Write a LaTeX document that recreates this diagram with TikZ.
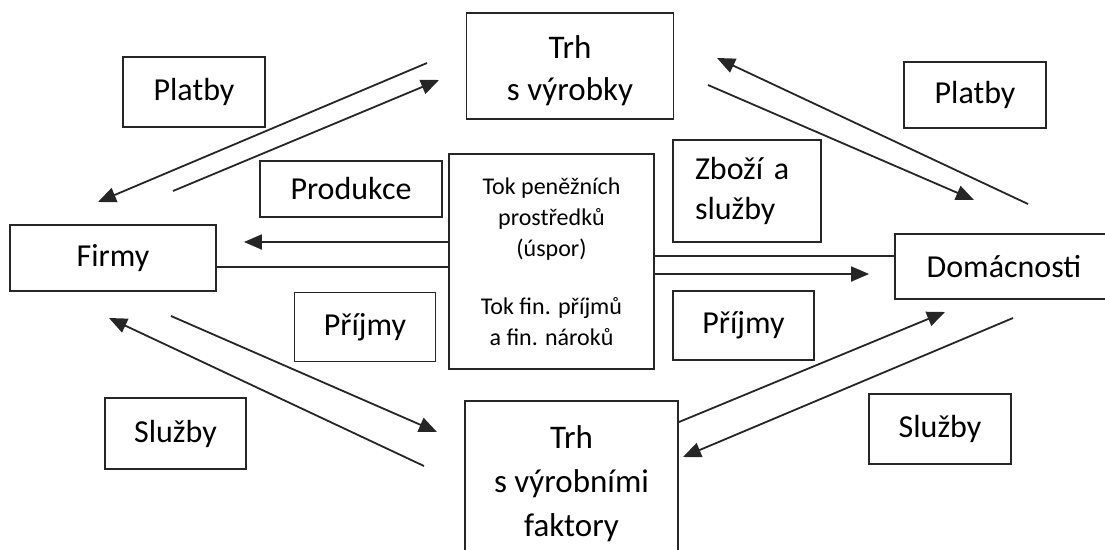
\documentclass[tikz,border=0pt]{standalone}
\usepackage{fontspec}
\setmainfont{Carlito}
\usetikzlibrary{arrows.meta}

\begin{document}
\begin{tikzpicture}[x=1pt,y=-1pt,line width=1.8pt,
  box/.style={draw=black!85,inner sep=0pt,align=center,font=\fontsize{32}{40}\selectfont},
  flow/.style={draw=black!85,-{Triangle[length=18pt,width=15pt]}}]
\useasboundingbox (0,0) rectangle (1105,549);
%
\node[box,minimum width=207pt,minimum height=106pt,text height=75pt,font=\fontsize{33}{42}\selectfont] (trhV) at (570,66) {Trh\\s výrobky};
\node[box,minimum width=213pt,minimum height=166pt,font=\fontsize{33}{44}\selectfont] (trhF) at (571.5,484) {Trh\\s výrobními\\faktory};
\node[box,minimum width=206pt,minimum height=66pt] (firmy) at (113,258) {Firmy};
\node[box,minimum width=218pt,minimum height=65pt] (domac) at (1004,266.5) {Domácnosti};
\node[box,minimum width=205pt,minimum height=215pt,font=\fontsize{24}{31}\selectfont] (tok) at (551.5,261.5)
  {Tok peněžních\\prostředků\\(úspor)\\[27pt]Tok fin. příjmů\\a fin. nároků};
%
\node[box,minimum width=142pt,minimum height=70pt] (platbyL) at (194,92) {Platby};
\node[box,minimum width=142pt,minimum height=66pt] (platbyR) at (975,95) {Platby};
\node[box,minimum width=182pt,minimum height=56pt] (produkce) at (351,189) {Produkce};
\node[box,text width=104pt,inner xsep=22pt,minimum height=102pt,align=left] (zbozi) at (747,191) {Zboží a\\služby};
\node[box,minimum width=141pt,minimum height=69pt] (prijmyL) at (365,327) {Příjmy};
\node[box,minimum width=141pt,minimum height=69pt] (prijmyR) at (743.5,325.5) {Příjmy};
\node[box,minimum width=141pt,minimum height=71pt] (sluzbyL) at (175.5,433.5) {Služby};
\node[box,minimum width=142pt,minimum height=70pt] (sluzbyR) at (940,429) {Služby};
%
% end points of the slanted arrows
\foreach \n/\x/\y in {a1/427/63, a2/98/202, b1/173/191, b2/439/80,
  c1/1028/204, c2/717/58, d1/708/85, d2/974/200,
  e1/171/316, e2/437/432, f1/424/466, f2/109/318,
  g1/679/422, g2/945/312, h1/1013/318, h2/683/457}
  \coordinate (\n) at (\x,\y);
\foreach \s/\t in {a1/a2, b1/b2, c1/c2, d1/d2, e1/e2, f1/f2, g1/g2, h1/h2}
  \draw[flow] (\s) -- (\t);
%
% horizontal flows through the middle box
\coordinate (l1) at (0,242);
\coordinate (l2) at (0,267);
\coordinate (l3) at (0,256);
\coordinate (l4) at (0,274);
\draw[flow,shorten >=27pt] (tok.west |- l1) -- (firmy.east |- l1);
\draw[draw=black!85] (firmy.east |- l2) -- (tok.west |- l2);
\draw[draw=black!85] (tok.east |- l3) -- (domac.west |- l3);
\draw[flow,shorten >=25pt] (tok.east |- l4) -- (domac.west |- l4);
\end{tikzpicture}
\end{document}
